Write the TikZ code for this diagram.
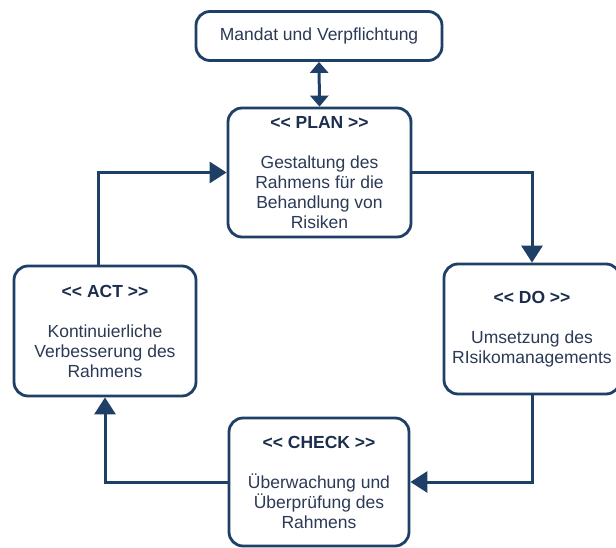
\documentclass[tikz,border=0pt]{standalone}
\usepackage{fontspec}
\setmainfont{Liberation Sans}[Ligatures=TeXOff]
\usetikzlibrary{arrows.meta}
\definecolor{navy}{HTML}{1E3F66}
\definecolor{bodytext}{HTML}{2B3A55}
\definecolor{titletext}{HTML}{1C2E4D}
\tikzset{
  stepbox/.style={draw=navy, line width=2.8pt, rounded corners=14pt, fill=white,
    align=center, text=bodytext, inner sep=0pt,
    font=\fontsize{17.5}{20}\selectfont},
  conn/.style={draw=navy, line width=3pt, -{Triangle[length=17pt,width=21pt]}},
  dconn/.style={draw=navy, line width=3pt, {Triangle[length=11pt,width=18pt]}-{Triangle[length=11pt,width=18pt]}},
}
\begin{document}
\begin{tikzpicture}[x=1pt,y=-1pt]
\useasboundingbox (0,0) rectangle (616,548);
\clip (0,0) rectangle (616,548);
\node[stepbox, minimum width=246pt, minimum height=49pt] (m) at (319,36) {Mandat und Verpflichtung};
\node[stepbox, minimum width=183pt, minimum height=129pt] (p) at (319.5,172.5)
  {\textcolor{titletext}{\bfseries <\kern0pt< PLAN >\kern0pt>}\\[20pt]Gestaltung des\\Rahmens für die\\Behandlung von\\Risiken};
\node[stepbox, minimum width=176pt, minimum height=130pt] (d) at (532,329)
  {\textcolor{titletext}{\bfseries <\kern0pt< DO >\kern0pt>}\\[20pt]Umsetzung des\\RIsikomanagements};
\node[stepbox, minimum width=182pt, minimum height=130pt] (a) at (105,331)
  {\textcolor{titletext}{\bfseries <\kern0pt< ACT >\kern0pt>}\\[20pt]Kontinuierliche\\Verbesserung des\\Rahmens};
\node[stepbox, minimum width=180pt, minimum height=128pt] (c) at (319,482)
  {\textcolor{titletext}{\bfseries <\kern0pt< CHECK >\kern0pt>}\\[20pt]Überwachung und\\Überprüfung des\\Rahmens};
\draw[dconn] (m.south) -- (p.north);
\draw[conn] (p.east) -| (d.north);
\draw[conn] (d.south) |- (c.east);
\draw[conn] (c.west) -| (a.south);
\draw[conn] ([xshift=-7pt]a.north) |- (p.west);
\end{tikzpicture}
\end{document}
